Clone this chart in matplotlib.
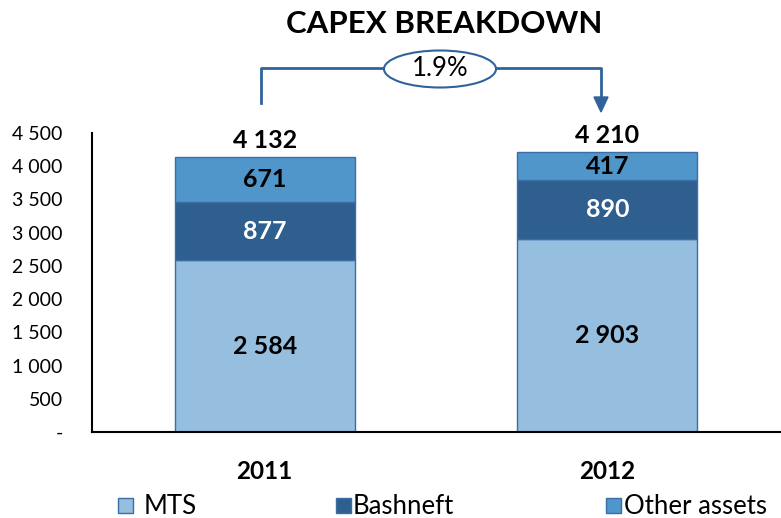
import matplotlib
matplotlib.use("Agg")
import matplotlib.pyplot as plt
from matplotlib.patches import Ellipse, Rectangle

years = ["2011", "2012"]
mts = [2584, 2903]
bashneft = [877, 890]
other = [671, 417]
totals = [4132, 4210]
growth_label = "1.9%"
series_names = ["MTS", "Bashneft", "Other assets"]
yticks = [0, 500, 1000, 1500, 2000, 2500, 3000, 3500, 4000, 4500]

c_mts = "#95BEDF"
c_bash = "#2E5F8F"
c_other = "#5096CB"
c_edge = "#3A6EA5"
c_line = "#30639A"

plt.rcParams['font.family'] = ['Lato', 'DejaVu Sans']

W, H = 781, 518
fig = plt.figure(figsize=(W / 100, H / 100), dpi=100)
ax = fig.add_axes([92 / W, 1 - 432 / H, (780 - 92) / W, (432 - 133) / H])

x = list(range(len(years)))
bw = 0.525
ax.bar(x, mts, bw, color=c_mts, edgecolor=c_edge, linewidth=1)
bottom2 = mts
ax.bar(x, bashneft, bw, bottom=bottom2, color=c_bash, edgecolor=c_edge, linewidth=1)
bottom3 = [a + b for a, b in zip(mts, bashneft)]
ax.bar(x, other, bw, bottom=bottom3, color=c_other, edgecolor=c_edge, linewidth=1)

def fmt(v):
    return f"{v:,}".replace(",", " ")

for i in x:
    ax.text(i, mts[i] / 2, fmt(mts[i]), ha="center", va="center",
            fontsize=18, fontweight="bold", color="black")
    ax.text(i, bottom2[i] + bashneft[i] / 2, fmt(bashneft[i]), ha="center", va="center",
            fontsize=18, fontweight="bold", color="white")
    ax.text(i, bottom3[i] + other[i] / 2, fmt(other[i]), ha="center", va="center",
            fontsize=18, fontweight="bold", color="black")
    ax.text(i, totals[i] + 145, fmt(totals[i]), ha="center", va="baseline",
            fontsize=18, fontweight="bold", color="black")

ax.set_xlim(-0.504, 1.504)
ax.set_ylim(0, 4500)
ax.set_yticks(yticks)
ax.set_yticklabels(["-" if v == 0 else fmt(v) for v in yticks], fontsize=14)
ax.set_xticks(x)
ax.set_xticklabels(years, fontsize=17.5, fontweight="bold")
ax.tick_params(axis="y", length=0, pad=21)
ax.tick_params(axis="x", length=0, pad=20)
for s in ["top", "right"]:
    ax.spines[s].set_visible(False)
for s in ["left", "bottom"]:
    ax.spines[s].set_linewidth(1.5)
    ax.spines[s].set_color("black")

def fx(px):
    return px / W

def fy(py):
    return 1 - py / H

# title
fig.text(fx(444), fy(33), "CAPEX BREAKDOWN", ha="center", va="baseline",
         fontsize=22.5, fontweight="bold")

# growth bracket
fig.add_artist(plt.Line2D([fx(261), fx(261), fx(601), fx(601)],
                          [fy(103), fy(68), fy(68), fy(98)],
                          color=c_line, linewidth=2, transform=fig.transFigure))
fig.add_artist(plt.Polygon([[fx(594), fy(97)], [fx(608), fy(97)], [fx(601), fy(112)]],
                           closed=True, color=c_line, transform=fig.transFigure))
ell = Ellipse((fx(440), fy(69)), 112 / W, 37 / H, facecolor="white",
              edgecolor=c_line, linewidth=1.5, transform=fig.transFigure, zorder=2)
fig.add_artist(ell)
fig.text(fx(440), fy(76), growth_label, ha="center", va="baseline", fontsize=18.5, zorder=3)

# legend (manual)
leg_items = [(series_names[0], c_mts, 118, 144), (series_names[1], c_bash, 336, 353),
             (series_names[2], c_other, 606, 624)]
for name, col, px, tx in leg_items:
    fig.add_artist(Rectangle((fx(px), fy(513)), 15 / W, 15 / H, facecolor=col,
                             edgecolor=c_edge, linewidth=1, transform=fig.transFigure))
    fig.text(fx(tx), fy(514), name, ha="left", va="baseline", fontsize=18.5)

fig.savefig("out.png", dpi=100)
